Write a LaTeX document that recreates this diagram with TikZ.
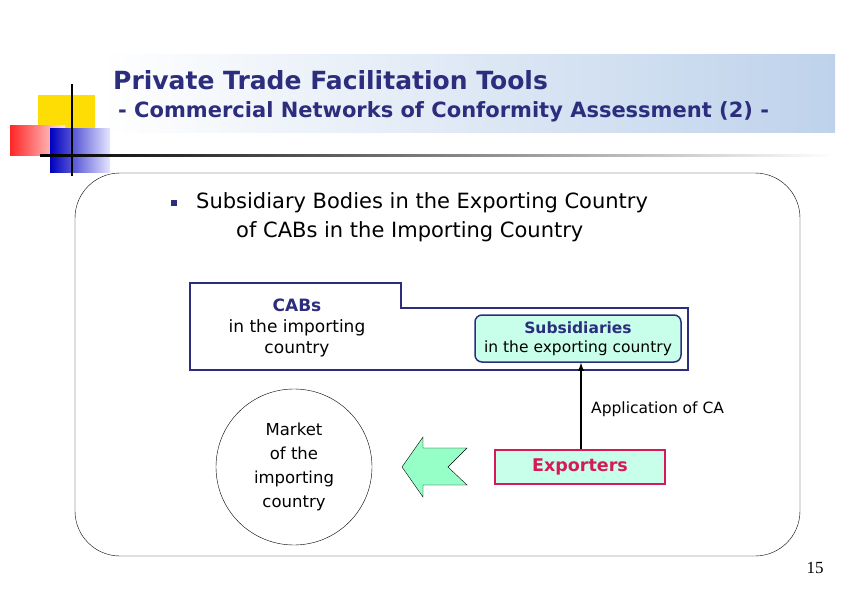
\documentclass[tikz,border=0pt]{standalone}
\usepackage{fontspec}
\setmainfont{DejaVu Sans}
\newfontfamily\seriffont{Liberation Serif}
\begin{document}
\begin{tikzpicture}[x=1pt,y=-1pt]
\definecolor{navy}{RGB}{45,45,125}
\definecolor{lblue}{RGB}{190,210,235}
\definecolor{mint}{RGB}{200,255,235}
\definecolor{mintg}{RGB}{150,255,200}
\definecolor{crim}{RGB}{215,25,90}
\tikzset{lbl/.style={font=\fontsize{15.5}{19}\selectfont,align=center,inner sep=0pt}}
\useasboundingbox (0,0) rectangle (849,594);
% banner
\shade[left color=white,right color=lblue] (100,55) rectangle (835,132);
% logo
\fill[yellow!80!orange] (38,95) rectangle (95,128);
\shade[left color=red!85,right color=red!10] (10,125) rectangle (65,155);
\shade[left color=blue!75!black,right color=blue!10] (50,128) rectangle (110,172);
\draw[line width=2pt] (72,84) -- (72,176);
\shade[left color=black,right color=white] (40,154) rectangle (835,156.5);
\node[anchor=west,text=navy,font=\bfseries\fontsize{25}{28}\selectfont,inner sep=0pt] (t1) at (113,80) {Private Trade Facilitation Tools};
\node[anchor=west,text=navy,font=\bfseries\fontsize{21}{24}\selectfont,inner sep=0pt] (t2) at (118,112) {- Commercial Networks of Conformity Assessment (2) -};
% frame
\draw[rounded corners=45pt] (75,173) rectangle (800,556);
\fill[navy] (171,200) rectangle (177,206);
\node[anchor=west,font=\fontsize{21}{24}\selectfont,inner sep=0pt] (b1) at (196,203) {Subsidiary Bodies in the Exporting Country};
\node[anchor=west,font=\fontsize{21}{24}\selectfont,inner sep=0pt] (b2) at (236,232) {of CABs in the Importing Country};
% CABs
\draw[navy,line width=1.8pt] (190,283) -- (401,283) -- (401,308) -- (688,308) -- (688,370) -- (190,370) -- cycle;
\node[lbl,font=\fontsize{17}{21}\selectfont] (cab) at (297,328) {\textcolor{navy}{\textbf{CABs}}\\in the importing\\country};
\node[draw=navy,line width=1.5pt,fill=mint,rounded corners=7pt,minimum width=206pt,minimum height=47pt,lbl] (sub) at (578,338.5) {\textcolor{navy}{\textbf{Subsidiaries}}\\in the exporting country};
\node[draw=crim,line width=1.8pt,fill=mint,minimum width=170pt,minimum height=34pt,lbl,text=crim,font=\bfseries\fontsize{17.5}{20}\selectfont] (exp) at (580,467) {Exporters};
\draw[line width=1.8pt,-latex] (exp.north -| 581,0) -- (sub.south -| 581,0);
\node[lbl,anchor=west] (app) at (591,409) {Application of CA};
\node[draw,circle,minimum size=156pt,lbl,font=\fontsize{16.5}{24}\selectfont] (mkt) at (294,467) {Market\\ of the\\importing\\country};
\draw[fill=mintg] (402,467) -- (423,437) -- (423,448) -- (467,448) -- (448,467) -- (467,485) -- (423,485) -- (423,497) -- cycle;
\node[font=\seriffont\fontsize{17}{19}\selectfont] (pg) at (815,568) {15};
\end{tikzpicture}
\end{document}
